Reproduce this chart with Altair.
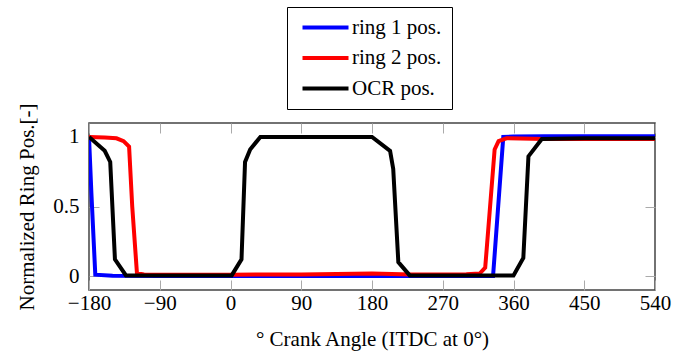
import altair as alt
import pandas as pd

# Ring positions over one engine cycle (crank angle in degrees, ITDC at 0)
ring1_angle = [-180, -177, -172, -150, -90, 0, 90, 180, 270, 320, 334, 347, 360, 400, 450, 540]
ring1_pos = [1.0, 0.6, 0.01, 0.003, 0.0, 0.0, 0.0, 0.0, 0.0, 0.0, 0.0, 1.0, 1.003, 1.005, 1.005, 1.005]

ring2_angle = [-180, -160, -145, -136, -129, -125, -119, -110, -90, 0, 90, 180, 230, 270,
               300, 317, 324, 336, 341, 351, 400, 450, 540]
ring2_pos = [1.0, 0.995, 0.99, 0.97, 0.93, 0.5, 0.02, 0.012, 0.01, 0.01, 0.012, 0.018, 0.012, 0.012,
             0.013, 0.018, 0.06, 0.91, 0.97, 0.99, 0.985, 0.985, 0.985]

ocr_angle = [-180, -160, -153, -147, -133, 0, 1.5, 14, 18.5, 25, 38, 90, 180, 203, 207, 213.5,
             228, 270, 300, 360, 372.5, 379, 396, 450, 540]
ocr_pos = [1.0, 0.9, 0.82, 0.12, 0.005, 0.005, 0.005, 0.12, 0.82, 0.91, 1.0, 1.0, 1.0, 0.9, 0.77, 0.1,
           0.005, 0.005, 0.005, 0.005, 0.13, 0.86, 0.985, 0.99, 0.99]

series_names = ["ring 1 pos.", "ring 2 pos.", "OCR pos."]
series_colors = ["#0000ff", "#ff0000", "#000000"]
x_ticks = [-180, -90, 0, 90, 180, 270, 360, 450, 540]
y_ticks = [0, 0.5, 1]

frames = []
for name, xs, ys in zip(series_names, [ring1_angle, ring2_angle, ocr_angle],
                        [ring1_pos, ring2_pos, ocr_pos]):
    frames.append(pd.DataFrame({"angle": xs, "pos": ys, "series": name, "order": range(len(xs))}))
df = pd.concat(frames, ignore_index=True)

FONT = "Liberation Serif"
xscale = alt.Scale(domain=[-180, 540], nice=False, zero=False)
yscale = alt.Scale(domain=[-0.1, 1.1], nice=False, zero=False)

lines = alt.Chart(df).mark_line(strokeWidth=4, clip=True).encode(
    x=alt.X("angle:Q", scale=xscale,
            axis=alt.Axis(values=x_ticks, format="d", title="° Crank Angle (ITDC at 0°)",
                          orient="bottom", offset=-10, tickSize=10, labelPadding=2,
                          labelFlush=False, labelOverlap=False, titlePadding=15)),
    y=alt.Y("pos:Q", scale=yscale,
            axis=alt.Axis(values=y_ticks, format="~g", title="Normalized Ring Pos.[-]",
                          orient="left", offset=-10, tickSize=10, labelPadding=10,
                          labelFlush=False, labelOverlap=False, titlePadding=15)),
    color=alt.Color("series:N",
                    scale=alt.Scale(domain=series_names, range=series_colors),
                    legend=alt.Legend(title=None, orient="none", legendX=198, legendY=-116,
                                      strokeColor="black", fillColor="white", padding=10,
                                      symbolType="M-4.6,0H4.6", symbolSize=100,
                                      symbolOffset=18, symbolStrokeWidth=4,
                                      labelFont=FONT, labelFontSize=21, labelColor="black",
                                      rowPadding=8.5, labelOffset=16)),
    detail="series:N",
    order="order:Q",
)

# mirrored inward ticks on the top and right edges of the frame
mirror = alt.Chart(df).mark_line(opacity=0).encode(
    x=alt.X("angle:Q", scale=xscale,
            axis=alt.Axis(values=x_ticks, orient="top", labels=False, title=None,
                          offset=-10, tickSize=10)),
    y=alt.Y("pos:Q", scale=yscale,
            axis=alt.Axis(values=y_ticks, orient="right", labels=False, title=None,
                          offset=-10, tickSize=10)),
    detail="series:N",
)

chart = alt.layer(mirror, lines).resolve_axis(x="independent", y="independent").properties(
    width=566, height=167,
    padding={"left": 89, "top": 123, "right": 32, "bottom": 61},
    autosize=alt.AutoSizeParams(type="none"),
).configure_view(stroke="#444", strokeWidth=1.5).configure_axis(
    domain=False, grid=False, tickColor="#aaaaaa", tickWidth=1,
    labelFont=FONT, labelFontSize=21, labelColor="black",
    titleFont=FONT, titleFontSize=21, titleFontWeight="normal", titleColor="black",
)

chart.save("out.html", embed_options={"renderer": "svg", "actions": False})
